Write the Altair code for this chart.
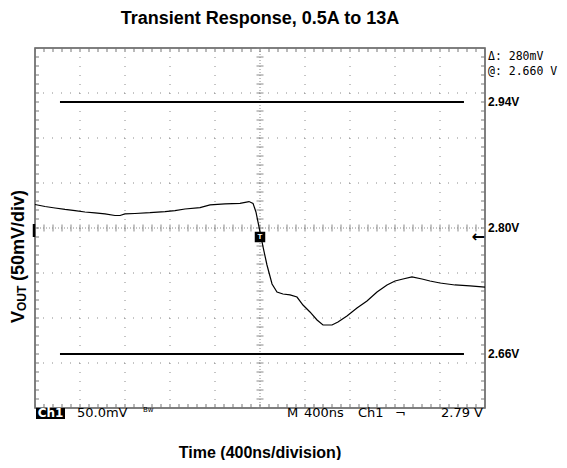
import altair as alt
import pandas as pd
import numpy as np

# ---------------- data (read from the scope capture) ----------------
trace_t_ns = [0, 89, 178, 267, 356, 444, 533, 622, 711, 756, 800, 889, 1022, 1156,
              1244, 1333, 1467, 1556, 1689, 1822, 1902, 1938, 1964, 1982, 2000, 2027,
              2062, 2107, 2151, 2204, 2267, 2329, 2382, 2444, 2507, 2560, 2640, 2693,
              2773, 2862, 2951, 3040, 3129, 3200, 3271, 3351, 3440, 3511, 3600, 3733,
              3867, 4000]
trace_v = [2.8261, 2.8239, 2.8222, 2.8206, 2.8194, 2.8178, 2.8167, 2.8156, 2.8139,
           2.8139, 2.8156, 2.8161, 2.8170, 2.8183, 2.8194, 2.8211, 2.8226, 2.8256,
           2.8267, 2.8274, 2.8294, 2.8274, 2.8178, 2.8067, 2.7956, 2.7789, 2.7589,
           2.7378, 2.7289, 2.7267, 2.7256, 2.7233, 2.7144, 2.7067, 2.6978, 2.6922,
           2.6922, 2.6956, 2.7022, 2.7111, 2.7189, 2.7289, 2.7367, 2.7411, 2.7433,
           2.7456, 2.7433, 2.7411, 2.7389, 2.7367, 2.7356, 2.7344]

cursor_levels = [2.94, 2.66]
cursor_start_ns = [222, 222]
cursor_end_ns = [3813, 3813]
level_values = [2.94, 2.80, 2.66]
level_labels = ["2.94V", "2.80V", "2.66V"]
trigger_level = 2.79
trigger_time_ns = 2000

time_domain = [0, 4000]
volt_domain = [2.60, 3.00]
time_div = 400
volt_div = 0.05

title_text = "Transient Response, 0.5A to 13A"
x_title_text = "Time (400ns/division)"
y_title_main = "V"
y_title_sub = "OUT"
y_title_rest = "(50mV/div)"
delta_text = "Δ: 280mV"
at_text = "@: 2.660 V"
status_ch = "Ch1"
status_scale = "50.0mV"
status_bw = "Bw"
status_m = "M"
status_time = "400ns"
status_src = "Ch1"
status_slope = "¬"
status_trig = "2.79 V"

# ---------------- derived tables ----------------
trace = pd.DataFrame({"t": trace_t_ns, "v": trace_v})
cursors = pd.DataFrame({"v": cursor_levels, "t0": cursor_start_ns, "t1": cursor_end_ns})
levels = pd.DataFrame({"v": level_values, "label": level_labels})

t_major = np.arange(time_domain[0], time_domain[1] + 1, time_div)
v_major = np.round(np.arange(volt_domain[0], volt_domain[1] + 1e-9, volt_div), 3)
t_minor = np.arange(time_domain[0], time_domain[1] + 1, time_div / 5)
v_minor = np.round(np.arange(volt_domain[0], volt_domain[1] + 1e-9, volt_div / 5), 4)
t_center = (time_domain[0] + time_domain[1]) / 2
v_center = round((volt_domain[0] + volt_domain[1]) / 2, 3)

xs = alt.Scale(domain=time_domain, nice=False, zero=False)
ys = alt.Scale(domain=volt_domain, nice=False, zero=False)
X = lambda f: alt.X(f, type="quantitative", scale=xs, axis=None)
Y = lambda f: alt.Y(f, type="quantitative", scale=ys, axis=None)

GRID = "#8a8a8a"
FONT = "Liberation Sans"

vgrid = alt.Chart(pd.DataFrame({"t": [t for t in t_major[1:-1] if t != t_center]})).mark_rule(
    color=GRID, strokeWidth=1, strokeDash=[1, 8]).encode(x=X("t"))
hgrid = alt.Chart(pd.DataFrame({"v": [v for v in v_major[1:-1] if abs(v - v_center) > 1e-6]})).mark_rule(
    color=GRID, strokeWidth=1, strokeDash=[1, 8]).encode(y=Y("v"))
vcenter = alt.Chart(pd.DataFrame({"t": [t_center]})).mark_rule(
    color=GRID, strokeWidth=1, strokeDash=[1, 2]).encode(x=X("t"))
hcenter = alt.Chart(pd.DataFrame({"v": [v_center]})).mark_rule(
    color=GRID, strokeWidth=1, strokeDash=[1, 2]).encode(y=Y("v"))

ctick_x = alt.Chart(pd.DataFrame({"t": t_minor, "v": v_center})).mark_tick(
    orient="vertical", size=7, thickness=1, color=GRID, opacity=1).encode(x=X("t"), y=Y("v"))
ctick_y = alt.Chart(pd.DataFrame({"v": v_minor, "t": t_center})).mark_tick(
    orient="horizontal", size=7, thickness=1, color=GRID, opacity=1).encode(x=X("t"), y=Y("v"))

edge_tb = pd.DataFrame({"t": np.concatenate([t_minor, t_minor]),
                        "v": [volt_domain[0]] * len(t_minor) + [volt_domain[1]] * len(t_minor)})
edge_lr = pd.DataFrame({"v": np.concatenate([v_minor, v_minor]),
                        "t": [time_domain[0]] * len(v_minor) + [time_domain[1]] * len(v_minor)})
etick_x = alt.Chart(edge_tb).mark_tick(orient="vertical", size=8, thickness=1, color="#777",
                                       opacity=1, clip=True).encode(x=X("t"), y=Y("v"))
etick_y = alt.Chart(edge_lr).mark_tick(orient="horizontal", size=8, thickness=1, color="#777",
                                       opacity=1, clip=True).encode(x=X("t"), y=Y("v"))

cursor_lines = alt.Chart(cursors).mark_rule(color="black", strokeWidth=2).encode(
    x=X("t0"), x2="t1", y=Y("v"))

line = alt.Chart(trace).mark_line(color="black", strokeWidth=1.2).encode(x=X("t"), y=Y("v"))

trig_box = alt.Chart(pd.DataFrame({"t": [trigger_time_ns], "v": [trigger_level]})).mark_square(
    size=110, color="black", opacity=1, filled=True).encode(x=X("t"), y=Y("v"))
trig_glyph = alt.Chart(pd.DataFrame({"t": [trigger_time_ns], "v": [trigger_level]})).mark_text(
    text="T", color="white", fontSize=8, fontWeight="bold", font=FONT, baseline="middle").encode(
    x=X("t"), y=Y("v"))

trig_arrow = alt.Chart(pd.DataFrame({"v": [trigger_level]})).mark_text(
    text="←", align="right", baseline="middle", fontSize=16, fontWeight="bold",
    font="DejaVu Sans", dx=0).encode(x=alt.value(450), y=Y("v"))

level_text = alt.Chart(levels).mark_text(
    align="left", baseline="middle", dx=3, fontSize=12, fontWeight="bold", font=FONT).encode(
    x=alt.value(450), y=Y("v"), text="label:N")

ch_marker = alt.Chart().mark_rule(color="black", strokeWidth=2.5).encode(
    x=alt.value(-1), y=alt.value(176), y2=alt.value(189))


def txt(s, x, y, size, weight="normal", font=FONT, align="left", baseline="alphabetic",
        color="black", angle=0):
    return alt.Chart().mark_text(text=s, fontSize=size, fontWeight=weight, font=font,
                                 align=align, baseline=baseline, color=color,
                                 angle=angle).encode(x=alt.value(x), y=alt.value(y))


MONO = "DejaVu Sans Mono"
SCOPE = "DejaVu Sans"
annotations = [
    txt(title_text, 225, -24, 18, "bold", align="center"),
    txt(x_title_text, 225, 410, 16, "bold", align="center"),
    txt(y_title_main, -11, 275, 18, "bold", angle=270),
    txt(y_title_sub, -9, 263, 12, "bold", angle=270),
    txt(y_title_rest, -11, 233, 18, "bold", angle=270),
    txt(delta_text, 453, 12, 11.5, font=MONO),
    txt(at_text, 453, 27, 11.5, font=MONO),
    txt(status_scale, 42, 369, 13, font=SCOPE),
    txt(status_bw, 108, 364, 7, font=SCOPE),
    txt(status_m, 252, 369, 13, font=SCOPE),
    txt(status_time, 269, 369, 13, font=SCOPE),
    txt(status_src, 323, 369, 13, font=SCOPE),
    txt(status_slope, 360, 369, 13, font=SCOPE),
    txt(status_trig, 448, 369, 13, font=SCOPE, align="right"),
]
ch_box = alt.Chart().mark_rect(color="black").encode(
    x=alt.value(1), x2=alt.value(30), y=alt.value(360), y2=alt.value(371))
ch_text = txt(status_ch, 15.5, 369, 12, "bold", font=SCOPE, align="center", color="white")

chart = alt.layer(
    vgrid, hgrid, vcenter, hcenter, ctick_x, ctick_y, etick_x, etick_y,
    cursor_lines, line, trig_box, trig_glyph, trig_arrow, level_text, ch_marker,
    ch_box, ch_text, *annotations
).properties(
    width=450, height=360,
    autosize=alt.AutoSizeParams(type="none"),
    padding={"left": 27, "top": 40, "right": 74, "bottom": 52},
).configure_view(stroke="#555", strokeWidth=1.5)

chart.save("out.html", embed_options={"renderer": "svg", "actions": False})
